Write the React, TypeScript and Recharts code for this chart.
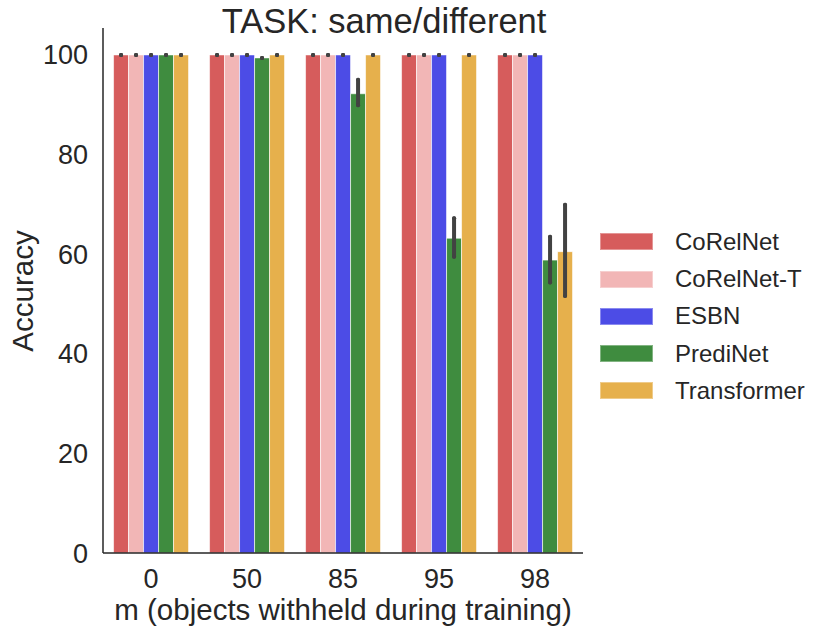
import { BarChart, Bar, XAxis, YAxis, ErrorBar, Label } from 'recharts';

const FONT = '"Liberation Sans", Arial, sans-serif';
const INK = '#262626';

const categories = ['0', '50', '85', '95', '98'];
const models = ['CoRelNet', 'CoRelNet-T', 'ESBN', 'PrediNet', 'Transformer'];
const colors = ['#d65c5c', '#f2b6b6', '#4c4ce6', '#3f8c3f', '#e6b04c'];

// mean accuracy per m
const corelnet = [100, 100, 100, 100, 100];
const corelnetT = [100, 100, 100, 100, 100];
const esbn = [100, 100, 100, 100, 100];
const prediNet = [100, 99.4, 92.2, 63.2, 58.8];
const transformer = [100, 100, 100, 100, 60.5];

// confidence interval bounds (only PrediNet / Transformer have visible spread)
const prediNetLow = [100, 99.4, 89.9, 59.5, 54.3];
const prediNetHigh = [100, 99.4, 95.0, 67.2, 63.5];
const transformerLow = [100, 100, 100, 100, 51.6];
const transformerHigh = [100, 100, 100, 100, 69.9];

const series = [
  { values: corelnet, low: corelnet, high: corelnet },
  { values: corelnetT, low: corelnetT, high: corelnetT },
  { values: esbn, low: esbn, high: esbn },
  { values: prediNet, low: prediNetLow, high: prediNetHigh },
  { values: transformer, low: transformerLow, high: transformerHigh },
];

const data = categories.map((m, i) => {
  const row: Record<string, any> = { m };
  series.forEach((s, k) => {
    row[`s${k}`] = s.values[i];
    row[`e${k}`] = [s.values[i] - s.low[i], s.high[i] - s.values[i]];
  });
  return row;
});

export default function App() {
  return (
    <div style={{ position: 'absolute', left: 0, top: 0, width: 831, height: 637, background: '#fff', fontFamily: FONT }}>
      <div
        style={{
          position: 'absolute',
          left: 0,
          width: 768,
          top: 4,
          textAlign: 'center',
          fontSize: 34.5,
          lineHeight: 1,
          color: INK,
        }}
      >
        TASK: same/different
      </div>

      <BarChart
        width={831}
        height={637}
        data={data}
        margin={{ top: 28, right: 248, bottom: 54, left: 43 }}
        barCategoryGap="11%"
        barGap={0}
      >
        <XAxis
          dataKey="m"
          height={30}
          tickSize={0}
          tickMargin={16}
          tickLine={false}
          axisLine={{ stroke: INK, strokeWidth: 1.5 }}
          tick={{ fontSize: 27, fill: INK, fontFamily: FONT }}
        >
          <Label
            content={() => (
              <text x={343} y={620} textAnchor="middle" fontSize={29.5} fill={INK} fontFamily={FONT}>
                m (objects withheld during training)
              </text>
            )}
          />
        </XAxis>
        <YAxis
          width={60}
          domain={[0, 105.4]}
          ticks={[0, 20, 40, 60, 80, 100]}
          allowDataOverflow
          tickSize={0}
          tickMargin={15}
          tickLine={false}
          axisLine={{ stroke: INK, strokeWidth: 1.5 }}
          tick={{ fontSize: 27, fill: INK, fontFamily: FONT }}
        >
          <Label
            content={() => (
              <text
                x={33}
                y={291}
                transform="rotate(-90, 33, 291)"
                textAnchor="middle"
                fontSize={29.5}
                fill={INK}
                fontFamily={FONT}
              >
                Accuracy
              </text>
            )}
          />
        </YAxis>

        {series.map((_, k) => (
          <Bar
            key={k}
            dataKey={`s${k}`}
            fill={colors[k]}
            stroke="#ffffff"
            strokeOpacity={0.6}
            strokeWidth={1}
            isAnimationActive={false}
          >
            <ErrorBar
              dataKey={`e${k}`}
              direction="y"
              width={0}
              stroke="#424242"
              strokeWidth={4}
              strokeLinecap="round"
              isAnimationActive={false}
            />
          </Bar>
        ))}
      </BarChart>

      {models.map((name, k) => (
        <div
          key={name}
          style={{
            position: 'absolute',
            left: 600,
            top: 242 + k * 37.2 - 18.6,
            height: 37.2,
            display: 'flex',
            alignItems: 'center',
          }}
        >
          <div style={{ width: 53, height: 17, background: colors[k], boxShadow: 'inset 0 0 0 1px rgba(255,255,255,0.35)' }} />
          <span style={{ marginLeft: 22, fontSize: 24, color: INK, lineHeight: 1 }}>{name}</span>
        </div>
      ))}
    </div>
  );
}
